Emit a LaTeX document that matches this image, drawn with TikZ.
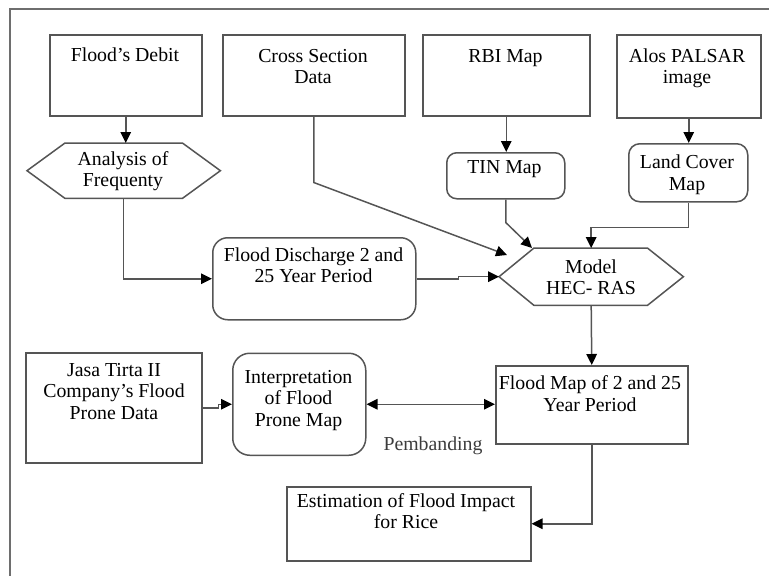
\documentclass[tikz,border=0pt]{standalone}
\usepackage{fontspec}
\setmainfont{Liberation Serif}
\usetikzlibrary{arrows.meta}
\definecolor{linegray}{RGB}{85,85,85}
\definecolor{framegray}{RGB}{110,110,110}
\definecolor{pemgray}{RGB}{60,60,60}
\tikzset{
  boxline/.style={draw=linegray, line width=1.5pt},
  box/.style={boxline, rectangle, inner sep=0pt, anchor=north west},
  rbox/.style={box, rounded corners=#1},
  ghost/.style={rectangle, inner sep=0pt, anchor=north west},
  txt/.style={inner sep=0pt, anchor=base, align=center, font=\fontsize{19.8pt}{21.8pt}\selectfont},
  tip/.tip={Triangle[length=11pt,width=10.5pt,color=black]},
  conn/.style={draw=linegray, line width=1.5pt, -tip},
  dconn/.style={draw=linegray, line width=1.5pt, tip-tip}
}
\begin{document}
\begin{tikzpicture}[x=1pt,y=-1pt]
\useasboundingbox (0,0) rectangle (769,576);
% outer frame
\draw[draw=framegray, line width=1.3pt] (10,576) -- (10,9) -- (769,9);

% boxes
\node[box, minimum width=152pt, minimum height=81pt] (debit) at (49,34) {};
\node[box, minimum width=182pt, minimum height=81pt] (cross) at (222,34) {};
\node[box, minimum width=167pt, minimum height=81pt] (rbi) at (422,34) {};
\node[box, minimum width=144pt, minimum height=83pt] (alos) at (616,34) {};
\node[ghost, minimum width=193pt, minimum height=55pt] (analysis) at (27,143) {};
\node[rbox=10pt, minimum width=118pt, minimum height=46pt] (tin) at (446,152) {};
\node[rbox=11pt, minimum width=119pt, minimum height=58pt] (landcover) at (628,143) {};
\node[ghost, minimum width=184pt, minimum height=57pt] (model) at (499,248) {};
\node[rbox=15pt, minimum width=203pt, minimum height=82pt] (discharge) at (212,237) {};
\node[box, minimum width=176pt, minimum height=110pt] (jasa) at (25,352) {};
\node[rbox=17pt, minimum width=133pt, minimum height=102pt] (interp) at (232,352.5) {};
\node[box, minimum width=192pt, minimum height=78pt] (floodmap) at (495,365) {};
\node[box, minimum width=244pt, minimum height=74pt] (estimation) at (286,486) {};

% hexagons
\draw[boxline] (analysis.west) -- ([xshift=38pt]analysis.north west) -- ([xshift=-38pt]analysis.north east) -- (analysis.east) -- ([xshift=-38pt]analysis.south east) -- ([xshift=38pt]analysis.south west) -- cycle;
\draw[boxline] (model.west) -- ([xshift=35pt]model.north west) -- ([xshift=-36pt]model.north east) -- (model.east) -- ([xshift=-36pt]model.south east) -- ([xshift=35pt]model.south west) -- cycle;

% texts (anchor = baseline of the last line)
\node[txt] (tdebit) at (125,61) {Flood’s Debit};
\node[txt] (tcross) at (313,83.8) {Cross Section\\Data};
\node[txt] (trbi) at (505.5,62) {RBI Map};
\node[txt] (talos) at (687,83.8) {Alos PALSAR\\image};
\node[txt] (tanalysis) at (123,186.8) {Analysis of\\Frequenty};
\node[txt] (ttin) at (504.5,173) {TIN Map};
\node[txt] (tland) at (687,190.3) {Land Cover\\Map};
\node[txt] (tmodel) at (591,294.8) {Model\\HEC- RAS};
\node[txt] (tdis) at (313.5,282.8) {Flood Discharge 2 and\\25 Year Period};
\node[txt] (tjasa) at (114,419.6) {Jasa Tirta II\\Company’s Flood\\Prone Data};
\node[txt] (tinterp) at (298.5,426.6) {Interpretation\\of Flood\\Prone Map};
\node[txt] (tflood) at (590,411.3) {Flood Map of 2 and 25\\Year Period};
\node[txt] (test) at (406,528.8) {Estimation of Flood Impact\\for Rice};
\node[txt, text=pemgray] (tpem) at (433,450) {Pembanding};

% end points that float
\coordinate (csend) at (507,255);
\coordinate (tinend) at (532,248);

% connectors
\draw[conn] (debit.south) -- (debit.south |- analysis.north);
\draw[conn] (rbi.south) -- (rbi.south |- tin.north);
\draw[conn] (alos.south) -- (alos.south |- landcover.north);
\draw[conn] (analysis.south) |- (discharge.west);
\draw[conn] (cross.south) -- ++(0,66) -- (csend);
\draw[conn] (tin.south) -- ++(0,23) -- (tinend);
\draw[conn] (landcover.south) -- ++(0,25) -| (model.north);
\draw[conn] (discharge.east) -- ++(42,0) |- (model.west);
\draw[conn] (model.south) -- (floodmap.north);
\draw[conn] (floodmap.south) |- (estimation.east);
\draw[conn] (jasa.east) -- ++(16,0) |- (interp.west);
\draw[dconn] (interp.east) -- (interp.east -| floodmap.west);
\end{tikzpicture}
\end{document}
